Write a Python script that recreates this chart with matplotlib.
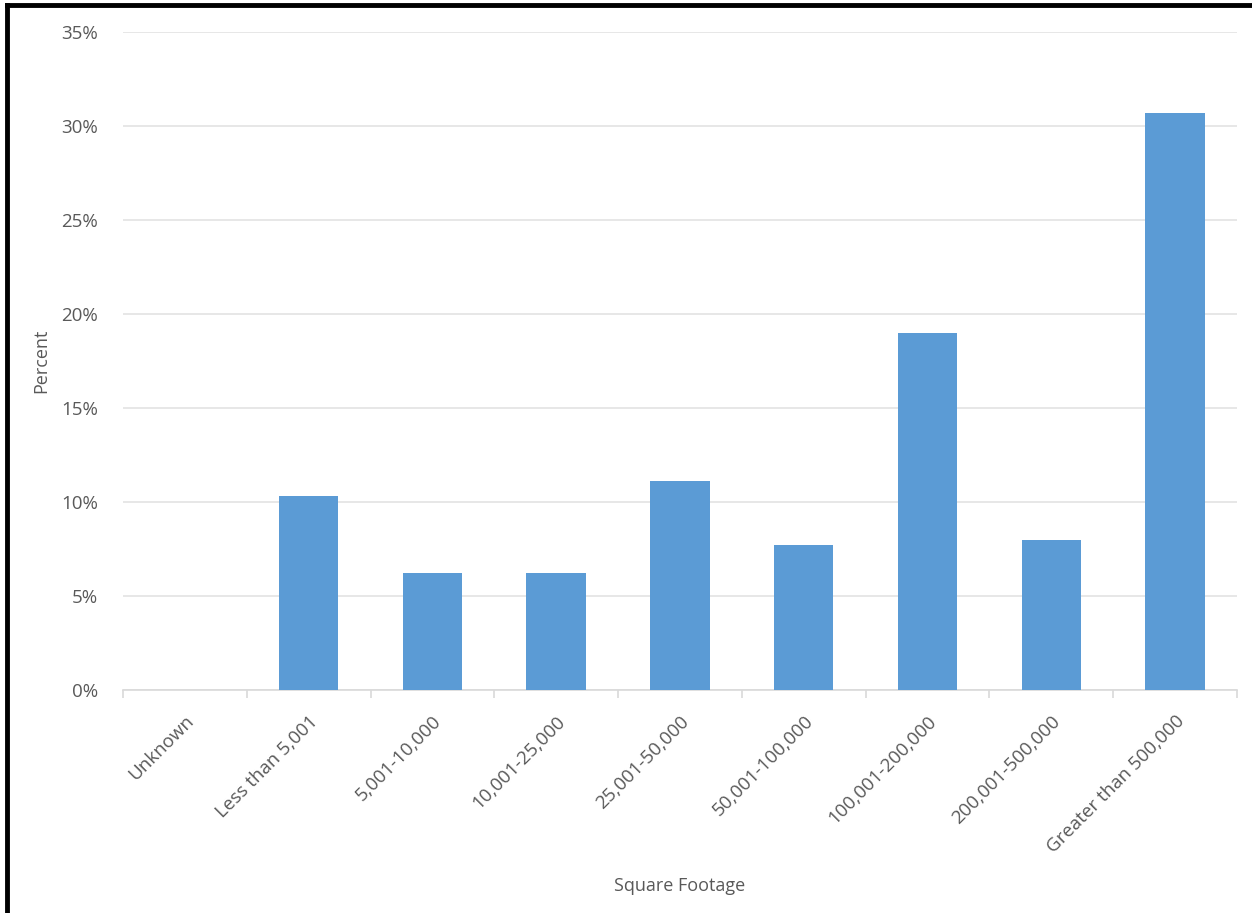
import matplotlib.pyplot as plt
from matplotlib.lines import Line2D
from matplotlib.ticker import FuncFormatter, MultipleLocator
import numpy as np

# Data
categories = ["Unknown", "Less than 5,001", "5,001-10,000", "10,001-25,000",
              "25,001-50,000", "50,001-100,000", "100,001-200,000",
              "200,001-500,000", "Greater than 500,000"]
percent = [0.0, 10.3, 6.2, 6.2, 11.1, 7.7, 19.0, 8.0, 30.7]

plt.rcParams['font.family'] = ['Open Sans', 'DejaVu Sans']
text_col = "#595959"
grid_col = "#E3E3E3"

fig = plt.figure(figsize=(12.52, 9.13), dpi=100)
ax = fig.add_axes([0.0982, 0.2443, 0.8898, 0.7207])

x = np.arange(len(categories))
ax.bar(x, percent, width=0.48, color="#5B9BD5", zorder=3)

ax.set_xlim(-0.5, len(categories) - 0.5)
ax.set_ylim(0, 35)
ax.yaxis.set_major_locator(MultipleLocator(5))
ax.yaxis.set_major_formatter(FuncFormatter(lambda v, p: f"{v:.0f}%"))
ax.grid(axis='y', color=grid_col, linewidth=1.2, zorder=0)

for s in ['top', 'right', 'left']:
    ax.spines[s].set_visible(False)
ax.spines['bottom'].set_color("#D9D9D9")
ax.spines['bottom'].set_linewidth(1.2)

ax.set_xticks(x)
ax.set_xticklabels(categories, rotation=45, ha='right', rotation_mode='anchor')
ax.tick_params(axis='x', which='major', length=0, pad=16, labelsize=13.5, labelcolor=text_col)
ax.set_xticks(np.arange(-0.5, len(categories)), minor=True)
ax.tick_params(axis='x', which='minor', length=6, color="#D9D9D9", width=1.2)
ax.tick_params(axis='y', length=0, pad=18, labelsize=13.5, labelcolor=text_col)

ax.set_xlabel("Square Footage", fontsize=13, color=text_col)
ax.set_ylabel("Percent", fontsize=13, color=text_col)
ax.xaxis.set_label_coords(0.5, -0.285)
ax.yaxis.set_label_coords(-0.065, 0.5)

# black frame on left and top edges of the image
fig.add_artist(Line2D([0.0056, 0.0056], [0, 0.9945], transform=fig.transFigure, color='black', linewidth=3.5))
fig.add_artist(Line2D([0.0056, 1], [0.9945, 0.9945], transform=fig.transFigure, color='black', linewidth=3.5))

fig.savefig("out.png", dpi=100, facecolor='white')
